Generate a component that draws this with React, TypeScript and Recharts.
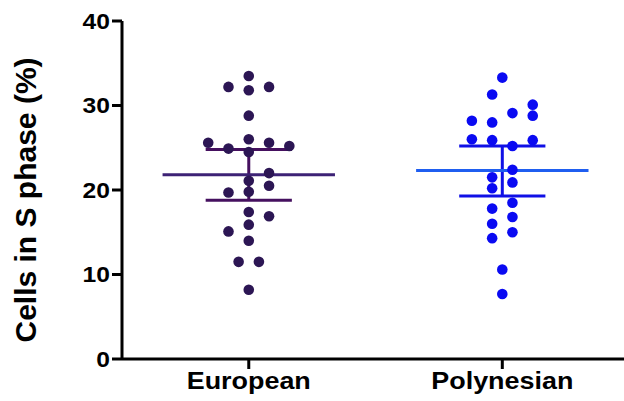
import { ScatterChart, Scatter, XAxis, YAxis, ReferenceLine } from "recharts";

// jitter lanes: one lane = about 10px sideways from the group centre
const europeanLane = [0, -2, 0, 2, 0, -4, 0, 2, -2, 4, 0, 2, 0, 2, -2, 0, 0, 2, 0, -2, 0, -1, 1, 0];
const europeanValue = [
  33.5, 32.2, 31.8, 32.2, 28.8, 25.6, 26.0, 25.6, 24.9, 25.2, 24.5, 22.0,
  21.1, 20.5, 19.7, 19.8, 17.4, 16.9, 15.9, 15.1, 14.0, 11.5, 11.5, 8.2,
];
const polynesianLane = [0, -1, 3, 3, 1, -3, -1, -3, -1, 3, 1, 1, -1, 1, -1, 1, -1, 1, -1, 1, -1, 0, 0];
const polynesianValue = [
  33.3, 31.3, 30.1, 28.8, 29.1, 28.2, 28.0, 26.0, 25.9, 25.9, 25.2, 22.4,
  21.5, 20.9, 20.2, 18.5, 17.8, 16.8, 16.0, 15.0, 14.3, 10.6, 7.7,
];

const groups = ["European", "Polynesian"];
const groupCenter = [0.5, 1.5];
const means = [21.8, 22.3];
const lowers = [18.8, 19.3];
const uppers = [24.8, 25.2];

const yTicks = [0, 10, 20, 30, 40];

const LANE = 0.04;
const MEAN_HALF = 0.34;
const CAP_HALF = 0.17;

const toPoints = (center: number, lanes: number[], values: number[]) =>
  values.map((v, i) => ({ x: center + lanes[i] * LANE, y: v }));

const europeanData = toPoints(groupCenter[0], europeanLane, europeanValue);
const polynesianData = toPoints(groupCenter[1], polynesianLane, polynesianValue);

const dotColors = ["#2c1654", "#0a0af2"];
const barColors = ["#45105f", "#1010e6"];
const meanColors = ["#3d2275", "#1f5ef0"];

const FONT = "'Liberation Sans', Arial, sans-serif";

const XTick = (props: any) => {
  const { x, y, payload } = props;
  const idx = groupCenter.indexOf(payload.value);
  return (
    <g transform={`translate(${x},${y}) scale(1.17,1)`}>
      <text x={0} y={0} dy="0.71em" textAnchor="middle" fontSize={23} fontWeight="bold" fontFamily={FONT} fill="#000">
        {groups[idx] ?? ""}
      </text>
    </g>
  );
};

const YTick = (props: any) => {
  const { x, y, payload } = props;
  return (
    <g transform={`translate(${x},${y}) scale(1.12,1)`}>
      <text x={0} y={0} dy="0.355em" textAnchor="end" fontSize={22} fontWeight="bold" fontFamily={FONT} fill="#000">
        {payload.value}
      </text>
    </g>
  );
};

const dot = (color: string) => (p: any) => <circle cx={p.cx} cy={p.cy} r={5.3} fill={color} />;

export default function App() {
  return (
    <div style={{ position: "absolute", left: 0, top: 0, background: "#fff" }}>
      <ScatterChart width={624} height={401} margin={{ top: 21, right: 0, bottom: 0, left: 0 }}>
        <XAxis
          type="number"
          dataKey="x"
          domain={[0, 1.98]}
          ticks={groupCenter}
          interval={0}
          height={42}
          tick={<XTick />}
          tickSize={10}
          tickMargin={4}
          axisLine={{ stroke: "#000", strokeWidth: 3 }}
          tickLine={{ stroke: "#000", strokeWidth: 3 }}
        />
        <YAxis
          type="number"
          dataKey="y"
          domain={[0, 40]}
          ticks={yTicks}
          width={122}
          tick={<YTick />}
          tickSize={10}
          tickMargin={2}
          axisLine={{ stroke: "#000", strokeWidth: 3 }}
          tickLine={{ stroke: "#000", strokeWidth: 3 }}
          label={{
            content: () => (
              <text
                transform="translate(36,200) rotate(-90)"
                textAnchor="middle"
                fontSize={30}
                fontWeight="bold"
                fontFamily={FONT}
                fill="#000"
              >
                Cells in S phase (%)
              </text>
            ),
          }}
        />
        {groupCenter.map((c, i) => (
          <ReferenceLine
            key={`v${i}`}
            segment={[{ x: c, y: lowers[i] }, { x: c, y: uppers[i] }]}
            stroke={barColors[i]}
            strokeWidth={3}
          />
        ))}
        {groupCenter.map((c, i) => (
          <ReferenceLine
            key={`u${i}`}
            segment={[{ x: c - CAP_HALF, y: uppers[i] }, { x: c + CAP_HALF, y: uppers[i] }]}
            stroke={barColors[i]}
            strokeWidth={3}
          />
        ))}
        {groupCenter.map((c, i) => (
          <ReferenceLine
            key={`l${i}`}
            segment={[{ x: c - CAP_HALF, y: lowers[i] }, { x: c + CAP_HALF, y: lowers[i] }]}
            stroke={barColors[i]}
            strokeWidth={3}
          />
        ))}
        <Scatter data={europeanData} shape={dot(dotColors[0])} isAnimationActive={false} />
        <Scatter data={polynesianData} shape={dot(dotColors[1])} isAnimationActive={false} />
        {groupCenter.map((c, i) => (
          <ReferenceLine
            key={`m${i}`}
            segment={[{ x: c - MEAN_HALF, y: means[i] }, { x: c + MEAN_HALF, y: means[i] }]}
            stroke={meanColors[i]}
            strokeWidth={3}
          />
        ))}
      </ScatterChart>
    </div>
  );
}
